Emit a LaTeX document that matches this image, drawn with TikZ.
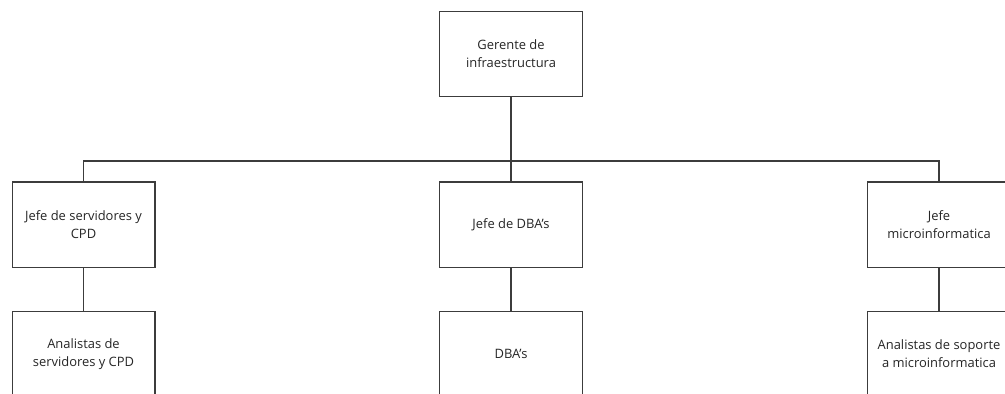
\documentclass[tikz,border=0pt]{standalone}
\usepackage{fontspec}
\setmainfont{Open Sans}
\definecolor{linegray}{HTML}{3C3C3C}
\definecolor{textgray}{HTML}{262626}
\begin{document}
\begin{tikzpicture}[x=0.75pt,y=-0.75pt,
  orgbox/.style={draw=linegray, line width=1pt, fill=white, rectangle,
    minimum width=107pt, minimum height=64pt, inner sep=0pt,
    align=center, text=textgray, font=\fontsize{9.7pt}{13.5pt}\selectfont},
  link/.style={draw=linegray, line width=1pt}]
  \useasboundingbox (0,0) rectangle (1005,393);
  \begin{scope}
    \clip (0,0) rectangle (1005,393);
    % top level
    \node[orgbox] (ger) at (511,54) {Gerente de\\infraestructura};
    % second level
    \node[orgbox] (jsrv) at (83.5,224.5) {Jefe de servidores y\\CPD};
    \node[orgbox] (jdba) at (511,224.5) {Jefe de DBA’s};
    \node[orgbox] (jmic) at (939,224.5) {Jefe\\microinformatica};
    % third level
    \node[orgbox] (asrv) at (83.5,354) {Analistas de\\servidores y CPD};
    \node[orgbox] (dba) at (511,354) {DBA’s};
    \node[orgbox] (amic) at (939,354) {Analistas de soporte\\a microinformatica};
    % connectors
    \coordinate (bus) at (511,161);
    \draw[link] (ger.south) -- (jdba.north);
    \draw[link] (jsrv.north) |- (bus) -| (jmic.north);
    \draw[link] (jsrv.south) -- (asrv.north);
    \draw[link] (jdba.south) -- (dba.north);
    \draw[link] (jmic.south) -- (amic.north);
  \end{scope}
\end{tikzpicture}
\end{document}
